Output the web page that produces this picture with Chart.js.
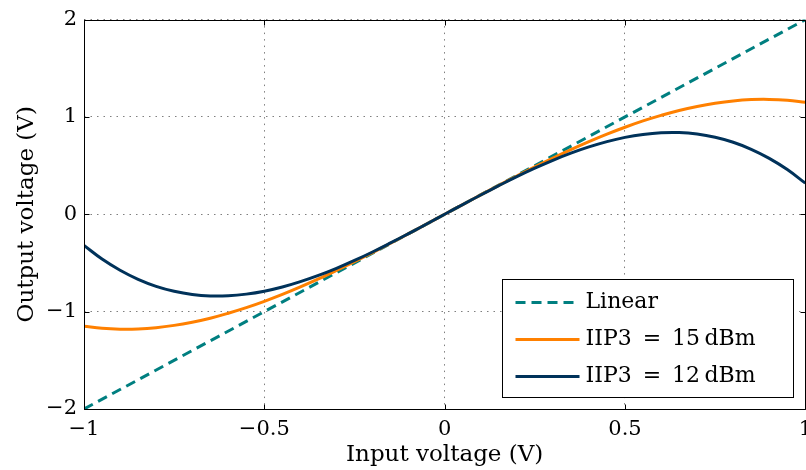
<!DOCTYPE html>
<html lang="en">

<head>
  <meta charset="UTF-8" />
  <title>Amplifier nonlinearity</title>
  <script src="https://cdn.jsdelivr.net/npm/chart.js"></script>
  <style>
    html, body { margin: 0; padding: 0; background: #fff; overflow: hidden; }
    #wrap { position: relative; width: 820px; height: 470px; }
  </style>
</head>

<body>
  <div id="wrap">
    <canvas id="transferChart"></canvas>
  </div>

  <script>
    // input sweep (V)
    const inputVoltage = [
      -1, -0.95, -0.9, -0.85, -0.8, -0.75, -0.7, -0.65, -0.6, -0.55, -0.5,
      -0.45, -0.4, -0.35, -0.3, -0.25, -0.2, -0.15, -0.1, -0.05, 0,
      0.05, 0.1, 0.15, 0.2, 0.25, 0.3, 0.35, 0.4, 0.45, 0.5,
      0.55, 0.6, 0.65, 0.7, 0.75, 0.8, 0.85, 0.9, 0.95, 1
    ];
    // output voltage (V)
    const outIIP3_15 = [
      -1.150, -1.171, -1.180, -1.178, -1.165, -1.141, -1.108, -1.067, -1.016, -0.959, -0.894,
      -0.823, -0.746, -0.664, -0.577, -0.487, -0.393, -0.297, -0.199, -0.100, 0,
      0.100, 0.199, 0.297, 0.393, 0.487, 0.577, 0.664, 0.746, 0.823, 0.894,
      0.959, 1.016, 1.067, 1.108, 1.141, 1.165, 1.178, 1.180, 1.171, 1.150
    ];
    const outIIP3_12 = [
      -0.320, -0.460, -0.575, -0.668, -0.740, -0.791, -0.824, -0.839, -0.837, -0.820, -0.790,
      -0.747, -0.692, -0.628, -0.555, -0.474, -0.387, -0.294, -0.198, -0.100, 0,
      0.100, 0.198, 0.294, 0.387, 0.474, 0.555, 0.628, 0.692, 0.747, 0.790,
      0.820, 0.837, 0.839, 0.824, 0.791, 0.740, 0.668, 0.575, 0.460, 0.320
    ];
    const linearIn = [-1, 1];
    const linearOut = [-2, 2];

    const xTicks = [-1, -0.5, 0, 0.5, 1];
    const yTicks = [-2, -1, 0, 1, 2];

    const serif = "'DejaVu Serif', serif";
    const fmt = v => (v < 0 ? '\u2212' : '') + Math.abs(v);
    const pts = (xs, ys) => xs.map((x, i) => ({ x, y: ys[i] }));

    // frame with inward ticks on all four sides
    const framePlugin = {
      id: 'frame',
      afterDatasetsDraw(chart) {
        const { ctx, chartArea: a, scales } = chart;
        const L = Math.round(a.left) + 0.5, R = Math.round(a.right) + 0.5;
        const T = Math.round(a.top) + 0.5, B = Math.round(a.bottom) + 0.5;
        ctx.save();
        ctx.strokeStyle = '#000';
        ctx.lineWidth = 1;
        ctx.beginPath();
        ctx.rect(L, T, R - L, B - T);
        const len = 5;
        xTicks.forEach(v => {
          const px = Math.round(scales.x.getPixelForValue(v)) + 0.5;
          ctx.moveTo(px, B); ctx.lineTo(px, B - len);
          ctx.moveTo(px, T); ctx.lineTo(px, T + len);
        });
        yTicks.forEach(v => {
          const py = Math.round(scales.y.getPixelForValue(v)) + 0.5;
          ctx.moveTo(L, py); ctx.lineTo(L + len, py);
          ctx.moveTo(R, py); ctx.lineTo(R - len, py);
        });
        ctx.stroke();
        ctx.restore();
      }
    };

    // boxed legend in the lower right corner
    const boxLegend = {
      id: 'boxLegend',
      afterDraw(chart) {
        const { ctx, chartArea: a } = chart;
        const w = 291, h = 118;
        const x0 = Math.round(a.right - 12 - w) + 0.5;
        const y0 = Math.round(a.bottom - 12 - h) + 0.5;
        ctx.save();
        ctx.fillStyle = '#fff';
        ctx.strokeStyle = '#000';
        ctx.lineWidth = 1;
        ctx.fillRect(x0, y0, w, h);
        ctx.strokeRect(x0, y0, w, h);
        ctx.font = '22px ' + serif;
        ctx.textBaseline = 'middle';
        ctx.fillStyle = '#000';
        const order = [2, 1, 0];
        order.forEach((di, row) => {
          const ds = chart.data.datasets[di];
          const y = y0 + 23 + row * 37;
          ctx.beginPath();
          ctx.strokeStyle = ds.borderColor;
          ctx.lineWidth = ds.borderWidth;
          ctx.setLineDash(ds.borderDash || []);
          ctx.moveTo(x0 + 13, y);
          ctx.lineTo(x0 + 77, y);
          ctx.stroke();
          ctx.setLineDash([]);
          ctx.fillText(ds.label, x0 + 83, y);
        });
        ctx.restore();
      }
    };

    const gridStyle = {
      color: 'rgba(0,0,0,0.5)',
      lineWidth: 1,
      drawTicks: false
    };
    const dotted = { display: false, dash: [1.5, 5] };

    new Chart(document.getElementById('transferChart'), {
      type: 'line',
      data: {
        datasets: [
          {
            label: 'IIP3\u2002=\u200212\u2009dBm',
            data: pts(inputVoltage, outIIP3_12),
            borderColor: '#00325a',
            borderWidth: 3,
            pointRadius: 0,
            tension: 0.4
          },
          {
            label: 'IIP3\u2002=\u200215\u2009dBm',
            data: pts(inputVoltage, outIIP3_15),
            borderColor: '#ff8000',
            borderWidth: 3,
            pointRadius: 0,
            tension: 0.4
          },
          {
            label: 'Linear',
            data: pts(linearIn, linearOut),
            borderColor: '#007f80',
            borderWidth: 3,
            borderDash: [10, 6],
            pointRadius: 0
          }
        ]
      },
      options: {
        responsive: true,
        maintainAspectRatio: false,
        animation: false,
        layout: { padding: { top: 18, right: 11, left: 0, bottom: 0 } },
        plugins: {
          legend: { display: false },
          tooltip: { enabled: false }
        },
        scales: {
          x: {
            type: 'linear',
            min: -1,
            max: 1,
            afterFit: s => { s.height = 61; },
            afterBuildTicks: s => { s.ticks = xTicks.map(value => ({ value })); },
            grid: gridStyle,
            border: dotted,
            ticks: {
              padding: 8,
              color: '#000',
              font: { family: serif, size: 21 },
              maxRotation: 0,
              callback: v => fmt(v)
            },
            title: {
              display: true,
              text: 'Input voltage (V)',
              color: '#000',
              font: { family: serif, size: 23 },
              padding: { top: 0, bottom: 1 }
            }
          },
          y: {
            min: -2,
            max: 2,
            afterFit: s => { s.width = 84; },
            afterBuildTicks: s => { s.ticks = yTicks.map(value => ({ value })); },
            grid: gridStyle,
            border: dotted,
            ticks: {
              padding: 7,
              color: '#000',
              font: { family: serif, size: 21 },
              callback: v => fmt(v)
            },
            title: {
              display: true,
              text: 'Output voltage (V)',
              color: '#000',
              font: { family: serif, size: 23 },
              padding: { top: 13, bottom: 0 }
            }
          }
        }
      },
      plugins: [framePlugin, boxLegend]
    });
  </script>
</body>

</html>
